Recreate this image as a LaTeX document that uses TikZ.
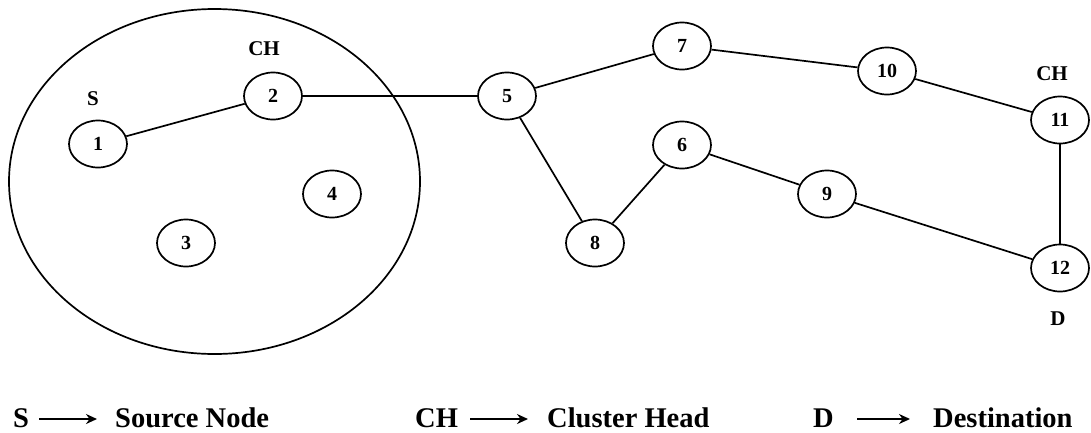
\documentclass[tikz,border=0pt]{standalone}
\usepackage{fontspec}
\setmainfont{Liberation Serif}
\usetikzlibrary{shapes.geometric,arrows.meta}
\begin{document}
\begin{tikzpicture}[x=1pt,y=-1pt,
  nd/.style={ellipse,draw,line width=1.7pt,minimum width=58pt,minimum height=47pt,inner sep=0pt,font=\fontsize{20}{20}\selectfont\bfseries},
  edge/.style={line width=1.7pt},
  lbl/.style={anchor=base,inner sep=0pt,font=\fontsize{21}{21}\selectfont\bfseries},
  leg/.style={anchor=base west,inner sep=0pt,font=\fontsize{28.5}{28.5}\selectfont\bfseries},
  legarrow/.style={line width=1.7pt,-{Stealth[length=11pt,width=10pt]}}]
\useasboundingbox (0,0) rectangle (1091,432);
% cluster
\draw[line width=1.7pt] (214.5,181.5) ellipse [x radius=205.5, y radius=172.5];
% nodes
\node[nd] (n1) at (98,144) {1};
\node[nd] (n2) at (273,96) {2};
\node[nd] (n3) at (186,243) {3};
\node[nd] (n4) at (332,194) {4};
\node[nd] (n5) at (507,96) {5};
\node[nd] (n7) at (682,46) {7};
\node[nd] (n6) at (682,145) {6};
\node[nd] (n8) at (595,243) {8};
\node[nd] (n10) at (887,71) {10};
\node[nd] (n11) at (1060,120) {11};
\node[nd] (n9) at (827,194) {9};
\node[nd] (n12) at (1060,268) {12};
% labels
\node[lbl] (ls) at (93,105) {S};
\node[lbl] (lch1) at (264,55) {CH};
\node[lbl] (lch2) at (1052,80) {CH};
\node[lbl] (ld) at (1058,325) {D};
% edges
\draw[edge] (n1) -- (n2);
\draw[edge] (n2) -- (n5);
\draw[edge] (n5) -- (n7);
\draw[edge] (n7) -- (n10);
\draw[edge] (n10) -- (n11);
\draw[edge] (n11) -- (n12);
\draw[edge] (n5) -- (n8);
\draw[edge] (n8) -- (n6);
\draw[edge] (n6) -- (n9);
\draw[edge] (n9) -- (n12);
% legend
\node[leg] (gS) at (13,427) {S};
\node[leg] (gSN) at (115,427) {Source Node};
\node[leg] (gCH) at (415,427) {CH};
\node[leg] (gCHN) at (547,427) {Cluster Head};
\node[leg] (gD) at (813,427) {D};
\node[leg] (gDN) at (933,427) {Destination};
\coordinate (a1s) at (39,419); \coordinate (a1e) at (97,419);
\coordinate (a2s) at (470,419); \coordinate (a2e) at (528,419);
\coordinate (a3s) at (857,419); \coordinate (a3e) at (910,419);
\draw[legarrow] (a1s) -- (a1e);
\draw[legarrow] (a2s) -- (a2e);
\draw[legarrow] (a3s) -- (a3e);
\end{tikzpicture}
\end{document}
